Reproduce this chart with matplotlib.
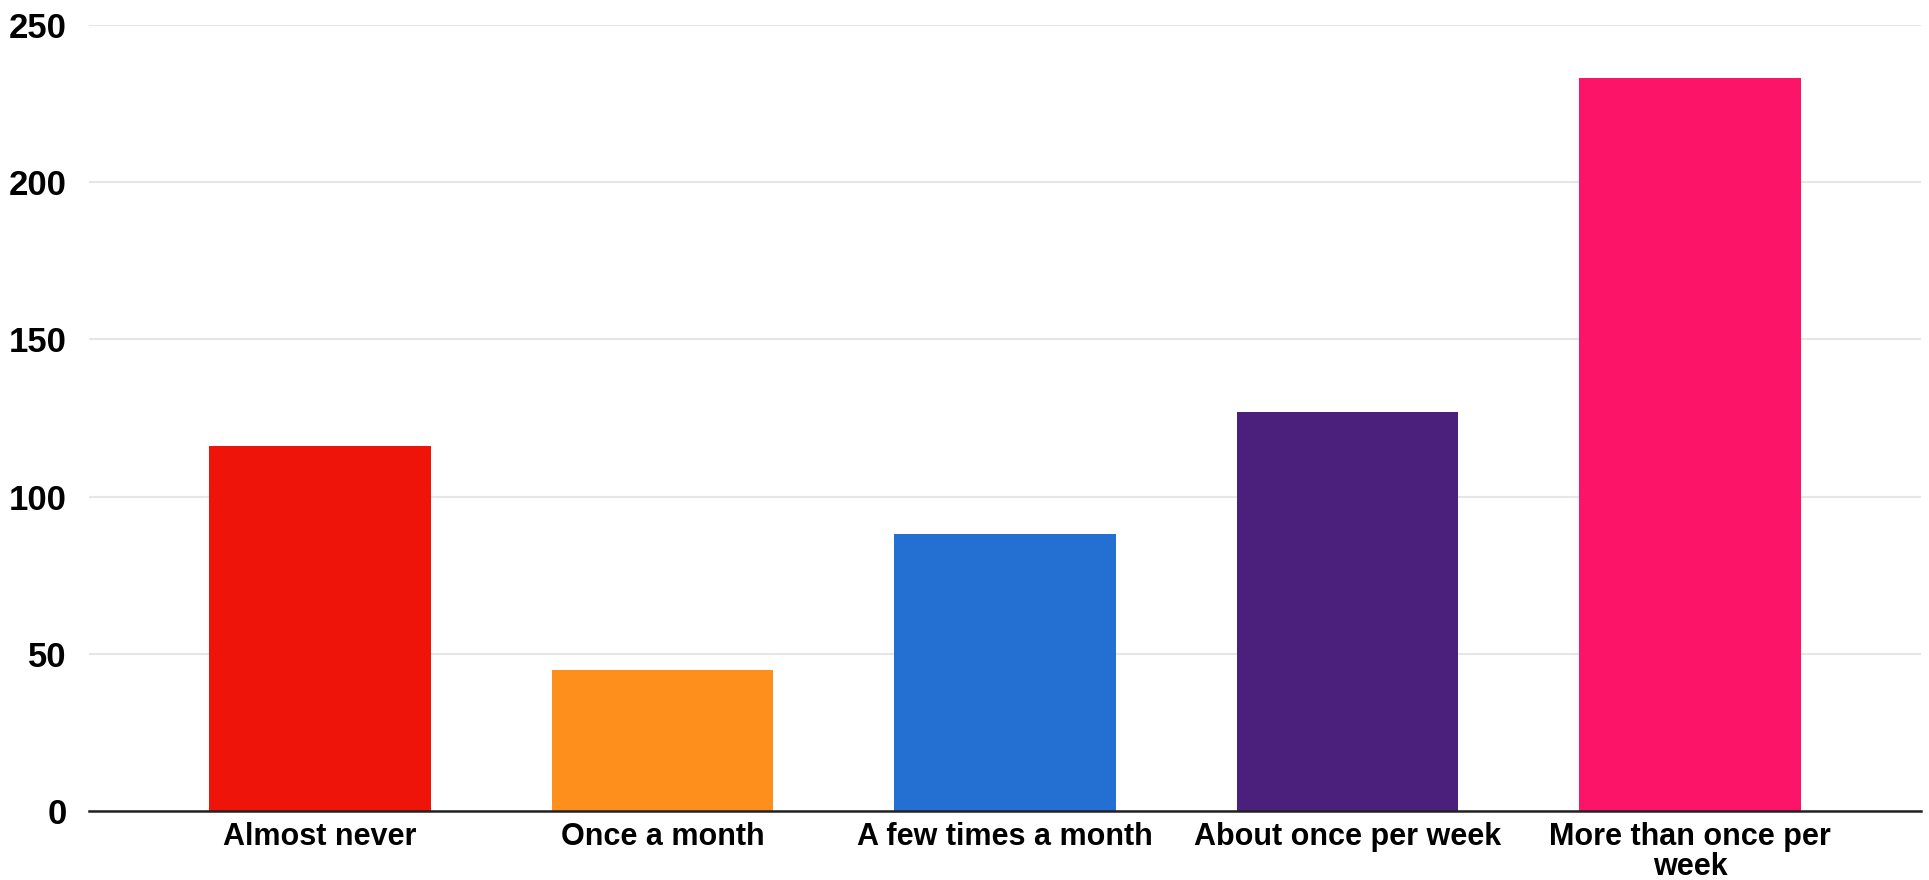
import numpy as np
import matplotlib.pyplot as plt

categories = ["Almost never", "Once a month", "A few times a month",
              "About once per week", "More than once per\nweek"]
counts = [116, 45, 88, 127, 233]
colors = ["#ee140a", "#ff8f1c", "#2370d2", "#4b1f7c", "#fb1467"]
yticks = [0, 50, 100, 150, 200, 250]

plt.rcParams['font.family'] = ['Liberation Sans', 'DejaVu Sans']

fig = plt.figure(figsize=(19.29, 8.8), dpi=100)
ax = fig.add_axes([0.046, 0.0784, 0.95, 0.8932])

x = np.arange(len(categories))
ax.bar(x, counts, width=0.646, color=colors, zorder=3)

ax.set_xlim(-0.675, len(categories) - 1 + 0.675)
ax.set_ylim(0, 250)
ax.set_yticks(yticks)
ax.set_xticks(x)
ax.set_xticklabels(categories, fontsize=22, fontweight='bold', linespacing=0.98)
ax.set_yticklabels([str(v) for v in yticks], fontsize=25, fontweight='bold')
ax.tick_params(axis='both', length=0)
ax.tick_params(axis='y', pad=16)
ax.tick_params(axis='x', pad=8)

ax.yaxis.grid(True, color='#e6e6e6', linewidth=1.5, zorder=0)
for s in ['top', 'right', 'left']:
    ax.spines[s].set_visible(False)
ax.spines['bottom'].set_color('#222222')
ax.spines['bottom'].set_linewidth(1.8)
ax.spines['bottom'].set_zorder(4)

fig.savefig('out.png', dpi=100)
